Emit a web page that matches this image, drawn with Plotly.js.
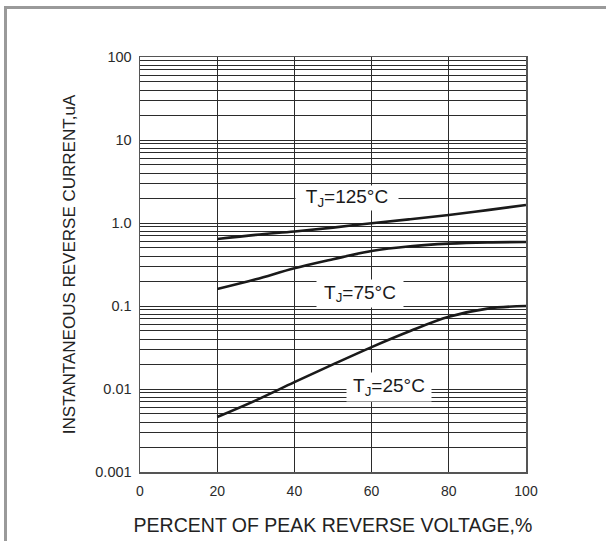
<!DOCTYPE html>
<html>
<head>
<meta charset="utf-8">
<script src="https://cdn.plot.ly/plotly-3.0.1.min.js"></script>
<style>
  html, body { margin: 0; padding: 0; background: #fff; }
  #chart { width: 606px; height: 541px; }
</style>
</head>
<body>
<div id="chart"></div>
<script>
// ---- data ----
const voltagePct = [20, 30, 40, 50, 60, 70, 80, 90, 100];
const current125 = [0.643, 0.72, 0.79, 0.88, 0.995, 1.11, 1.25, 1.43, 1.65];
const current75  = [0.16, 0.21, 0.285, 0.366, 0.46, 0.525, 0.565, 0.585, 0.59];
const current25  = [0.0046, 0.0073, 0.0121, 0.0198, 0.032, 0.050, 0.074, 0.093, 0.10];

const xTickVals = [0, 20, 40, 60, 80, 100];
const xTickText = ['0', '20', '40', '60', '80', '100'];
const yDecades = [0.001, 0.01, 0.1, 1, 10, 100];
const yDecadeText = ['0.001', '0.01', '0.1', '1.0', '10', '100'];

const seriesLabels = ['T<sub>J</sub>=125°C', 'T<sub>J</sub>=75°C', 'T<sub>J</sub>=25°C'];

// gridline values for log axis (major decades + minor 2..9)
const yMinorVals = [];
for (let d = 0; d < yDecades.length - 1; d++) {
  for (let m = 2; m <= 9; m++) yMinorVals.push(yDecades[d] * m);
}

const lineStyle = { color: '#1a1a1a', width: 2.6, shape: 'spline', smoothing: 1 };
const traces = [current125, current75, current25].map(ys => ({
  x: voltagePct, y: ys, mode: 'lines', type: 'scatter',
  line: lineStyle, hoverinfo: 'skip', showlegend: false
}));

// plot area geometry in px for frame shapes
const L = 140, T = 57, W = 386, H = 415;
const px2paperX = px => (px - L) / W;
const px2paperY = py => 1 - (py - T) / H;

const frameColor = '#9a9a9a';
const gridCol = '#2b2b2b';

const layout = {
  width: 606, height: 541,
  margin: { l: L, r: 606 - L - W, t: T, b: 541 - T - H, pad: 0 },
  paper_bgcolor: '#fff', plot_bgcolor: '#fff',
  font: { family: 'Liberation Sans, Arial, sans-serif', color: '#2a2a2a' },
  xaxis: {
    range: [0, 100], tickvals: xTickVals, ticktext: xTickText,
    showgrid: true, gridcolor: gridCol, gridwidth: 1,
    zeroline: false, showline: true, mirror: true, linecolor: '#555', linewidth: 1.5,
    ticks: 'outside', ticklen: 6, tickcolor: 'rgba(0,0,0,0)',
    tickfont: { size: 14, color: '#2a2a2a' },
    title: { text: 'PERCENT OF PEAK REVERSE VOLTAGE,%', font: { size: 19.5, color: '#222' }, standoff: 20 },
    fixedrange: true
  },
  yaxis: {
    type: 'log', range: [-3, 2], tickvals: yDecades, ticktext: yDecadeText,
    showgrid: true, gridcolor: gridCol, gridwidth: 1,
    minor: { tickvals: yMinorVals, showgrid: true, gridcolor: gridCol, gridwidth: 1, ticks: '' },
    zeroline: false, showline: true, mirror: true, linecolor: '#555', linewidth: 1.5,
    ticks: 'outside', ticklen: 4, tickcolor: 'rgba(0,0,0,0)',
    tickfont: { size: 14.5, color: '#2a2a2a' },
    title: { text: 'INSTANTANEOUS REVERSE CURRENT,uA', font: { size: 17, color: '#222' }, standoff: 15 },
    fixedrange: true
  },
  annotations: [
    { x: 53.5, y: Math.log10(2.01), text: seriesLabels[0], width: 102, height: 24 },
    { x: 57.1, y: -0.85, text: seriesLabels[1], width: 86, height: 27 },
    { x: 64.4, y: -1.979, text: seriesLabels[2], width: 84, height: 28 }
  ].map(a => Object.assign({
    xref: 'x', yref: 'y', showarrow: false, bgcolor: '#fff', borderpad: 0,
    font: { size: 19, color: '#1a1a1a', family: 'Liberation Sans, Arial, sans-serif' },
    xanchor: 'center', yanchor: 'middle', align: 'center', valign: 'middle'
  }, a)),
  shapes: [
    { type: 'line', xref: 'paper', yref: 'paper',
      x0: px2paperX(5.5), x1: px2paperX(5.5), y0: px2paperY(560), y1: px2paperY(6),
      line: { color: frameColor, width: 3 } },
    { type: 'line', xref: 'paper', yref: 'paper',
      x0: px2paperX(4), x1: px2paperX(620), y0: px2paperY(7.5), y1: px2paperY(7.5),
      line: { color: frameColor, width: 3 } }
  ]
};

Plotly.newPlot('chart', traces, layout, { displayModeBar: false, staticPlot: true });
</script>
</body>
</html>
